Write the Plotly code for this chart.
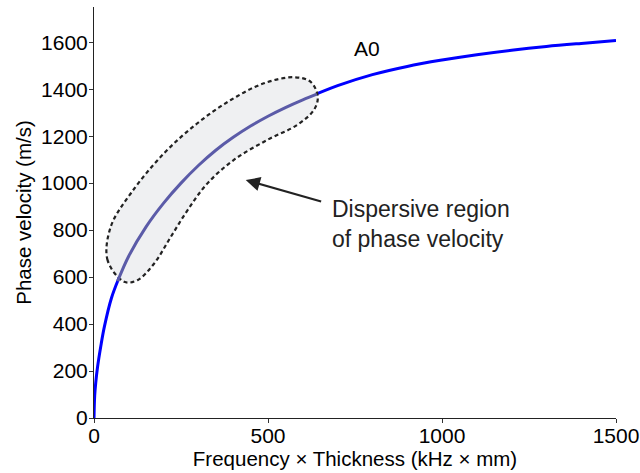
import plotly.graph_objects as go

# A0 dispersion curve
fd = [0, 2, 5, 10, 20, 30, 50, 70, 100, 150, 200, 250, 300, 350, 400, 450, 500,
      550, 600, 700, 800, 900, 1000, 1100, 1200, 1300, 1400, 1500]
vp = [0, 95, 150, 215, 310, 390, 510, 590, 690, 815, 915, 1000, 1075, 1140, 1195,
      1243, 1285, 1322, 1355, 1415, 1462, 1497, 1524, 1547, 1566, 1582, 1595, 1607]

# dispersive region limits on fd
region_start = 68
region_end = 640

# outline of the highlighted region
blob_x = [87, 39, 48, 106, 201, 297, 393, 488, 574, 622, 643, 632, 584, 498, 402,
          326, 269, 221, 173, 125, 87]
blob_y = [580, 672, 814, 957, 1127, 1255, 1354, 1425, 1451, 1432, 1368, 1312, 1248,
          1184, 1099, 999, 885, 772, 658, 587, 580]

x_ticks = [0, 500, 1000, 1500]
y_ticks = [0, 200, 400, 600, 800, 1000, 1200, 1400, 1600]

FONT = "Liberation Sans, Arial, Helvetica, sans-serif"

fig = go.Figure()
fig.add_trace(go.Scatter(x=fd, y=vp, mode="lines", line=dict(color="#0000ff", width=3, shape="spline"),
                         hoverinfo="skip", showlegend=False))
fig.add_trace(go.Scatter(x=blob_x, y=blob_y, mode="lines", fill="toself", fillcolor="#eff0f2",
                         line=dict(color="#222222", width=2.2, dash="4px,3px", shape="spline", smoothing=1.0),
                         hoverinfo="skip", showlegend=False))


def interp(x0):
    for i in range(len(fd) - 1):
        if fd[i] <= x0 <= fd[i + 1]:
            t = (x0 - fd[i]) / (fd[i + 1] - fd[i])
            return vp[i] + t * (vp[i + 1] - vp[i])


ix = [region_start] + [x for x in fd if region_start < x < region_end] + [region_end]
iy = [interp(x) for x in ix]
fig.add_trace(go.Scatter(x=ix, y=iy, mode="lines", line=dict(color="#5b5ba8", width=3, shape="spline"),
                         hoverinfo="skip", showlegend=False))

fig.add_annotation(x=436, y=1013, ax=657, ay=920, axref="x", ayref="y", xref="x", yref="y",
                   text="", showarrow=True, arrowhead=2, arrowsize=1.3, arrowwidth=2.2, arrowcolor="#222222")
fig.add_annotation(x=678, y=828, xref="x", yref="y", text="Dispersive region<br>of phase velocity",
                   showarrow=False, xanchor="left", yanchor="middle", align="left",
                   font=dict(family=FONT, size=23, color="#222222"))
fig.add_annotation(x=785, y=1573, xref="x", yref="y", text="A0", showarrow=False,
                   font=dict(family=FONT, size=21, color="#000000"))

fig.update_layout(
    width=640, height=473,
    margin=dict(l=94, r=24, t=7, b=55),
    paper_bgcolor="white", plot_bgcolor="white",
    font=dict(family=FONT, size=21, color="#000000"),
    xaxis=dict(range=[0, 1500], tickvals=x_ticks, ticks="outside", ticklen=4, tickcolor="#333333",
               showline=True, linecolor="#222222", linewidth=1, showgrid=False, zeroline=False,
               automargin=False, tickfont=dict(size=21), ticklabelstandoff=-5,
               title=dict(text="Frequency \u00d7 Thickness (kHz \u00d7 mm)", standoff=4,
                          font=dict(size=20.5))),
    yaxis=dict(range=[0, 1750], tickvals=y_ticks, ticks="outside", ticklen=4, tickcolor="#333333",
               showline=True, linecolor="#222222", linewidth=1, showgrid=False, zeroline=False,
               automargin=False, tickfont=dict(size=21), ticklabelstandoff=-3,
               title=dict(text="Phase velocity (m/s)", standoff=3, font=dict(size=20.5))),
)
fig.write_html("out.html")
